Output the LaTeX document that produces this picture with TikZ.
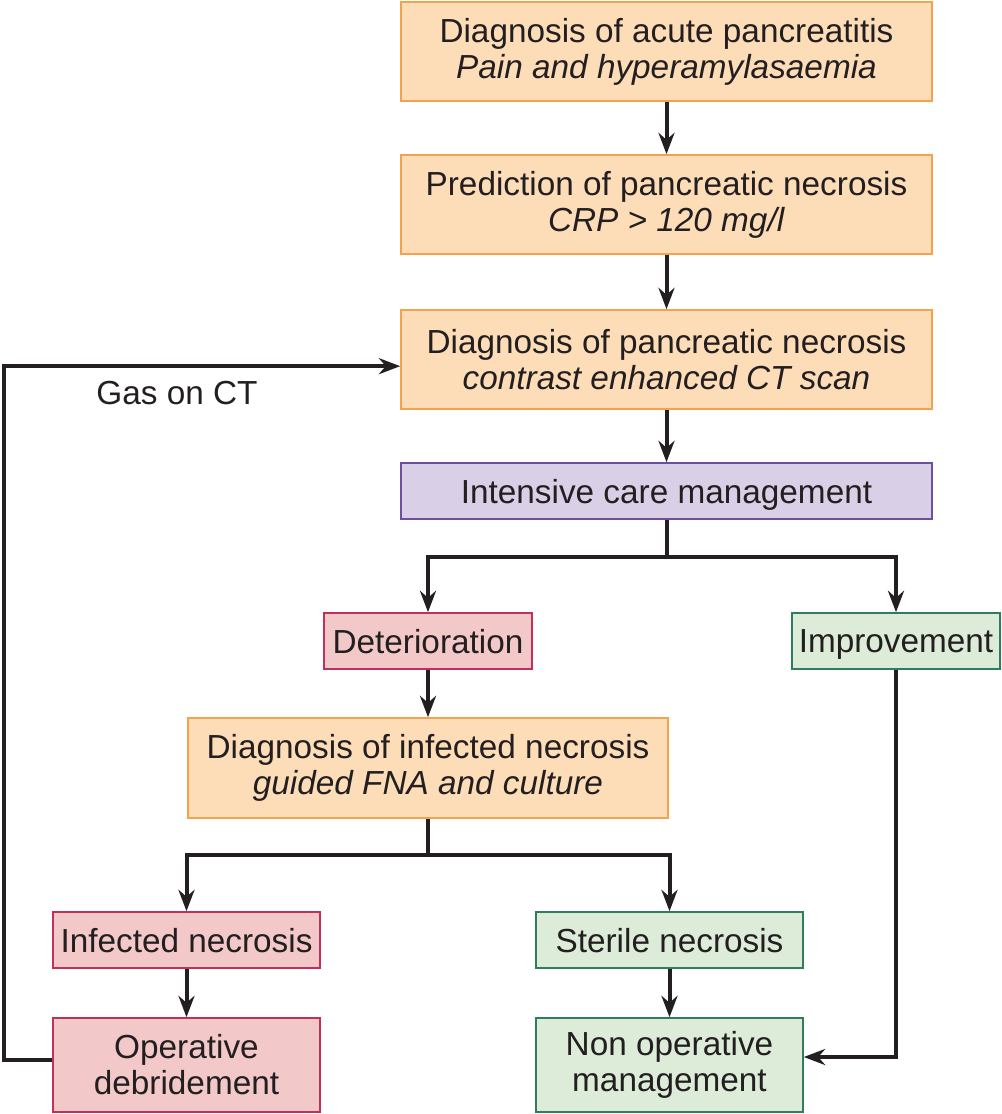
\documentclass[tikz,border=0pt]{standalone}
\usepackage{fontspec}
\setmainfont{Liberation Sans}
\usetikzlibrary{arrows.meta}
\definecolor{inkc}{HTML}{231F20}
\definecolor{orfill}{HTML}{FDDDB8}
\definecolor{ordraw}{HTML}{F4A24C}
\definecolor{pufill}{HTML}{D9CFE7}
\definecolor{pudraw}{HTML}{6E4F9B}
\definecolor{refill}{HTML}{F2C8C8}
\definecolor{redraw}{HTML}{C2305A}
\definecolor{grfill}{HTML}{DDEBD9}
\definecolor{grdraw}{HTML}{2F7D5B}
\tikzset{
  box/.style={draw, line width=1.2pt, inner sep=0pt, align=center, text=inkc,
    font=\fontsize{25}{27}\selectfont},
  oneline/.style={text depth=0pt},
  orbox/.style={box, fill=orfill, draw=ordraw},
  pubox/.style={box, fill=pufill, draw=pudraw},
  rebox/.style={box, fill=refill, draw=redraw},
  grbox/.style={box, fill=grfill, draw=grdraw},
  arr/.style={draw=inkc, line width=3pt, -{Stealth[length=16pt,width=12pt]}},
  plain/.style={draw=inkc, line width=3pt}
}
\begin{document}
\begin{tikzpicture}[x=0.75pt,y=-0.75pt]
  \useasboundingbox (0,0) rectangle (1002,1114);
  % main column
  \node[orbox, minimum width=398.25pt, minimum height=74.25pt] (acute) at (666.5,51.5)
    {Diagnosis of acute pancreatitis\\\textit{Pain and hyperamylasaemia}};
  \node[orbox, minimum width=398.25pt, minimum height=74.25pt] (predict) at (666.5,204.5)
    {Prediction of pancreatic necrosis\\\textit{CRP > 120 mg/l}};
  \node[orbox, minimum width=398.25pt, minimum height=74.25pt] (necrosis) at (666.5,359.5)
    {Diagnosis of pancreatic necrosis\\\textit{contrast enhanced CT scan}};
  \node[pubox, oneline, minimum width=398.25pt, minimum height=42pt] (icu) at (666.5,491)
    {Intensive care management};
  % branches
  \node[rebox, oneline, minimum width=156pt, minimum height=42pt] (deter) at (428,641) {Deterioration};
  \node[grbox, oneline, minimum width=156pt, minimum height=42pt] (improve) at (896,641) {Improvement};
  \node[orbox, minimum width=360pt, minimum height=75pt] (infdiag) at (428,768)
    {Diagnosis of infected necrosis\\\textit{guided FNA and culture}};
  \node[rebox, oneline, minimum width=200.25pt, minimum height=42pt] (infected) at (186.5,940) {Infected necrosis};
  \node[grbox, oneline, minimum width=200.25pt, minimum height=42pt] (sterile) at (669.5,940) {Sterile necrosis};
  \node[rebox, minimum width=200.25pt, minimum height=70.5pt] (operative) at (186.5,1065)
    {Operative\\debridement};
  \node[grbox, minimum width=200.25pt, minimum height=70.5pt] (nonop) at (669.5,1065)
    {Non operative\\management};
  \node[text=inkc, font=\fontsize{25}{27}\selectfont] (gas) at (177,393) {Gas on CT};
  \coordinate (split1) at (666.5,557);
  \coordinate (split2) at (428,855);
  % connectors
  \draw[arr] (acute) -- (predict);
  \draw[arr] (predict) -- (necrosis);
  \draw[arr] (necrosis) -- (icu);
  \draw[plain] (icu) -- (split1);
  \draw[arr] (split1) -| (deter);
  \draw[arr] (split1) -| (improve);
  \draw[arr] (deter) -- (infdiag);
  \draw[plain] (infdiag) -- (split2);
  \draw[arr] (split2) -| (infected);
  \draw[arr] (split2) -| (sterile);
  \draw[arr] (infected) -- (operative);
  \draw[arr] (sterile) -- (nonop);
  \draw[arr] (improve.south) |- ([yshift=6pt]nonop.east);
  \draw[arr] ([yshift=4pt]operative.west) -- ++(-48,0) |- ([yshift=-5pt]necrosis.west);
\end{tikzpicture}
\end{document}
